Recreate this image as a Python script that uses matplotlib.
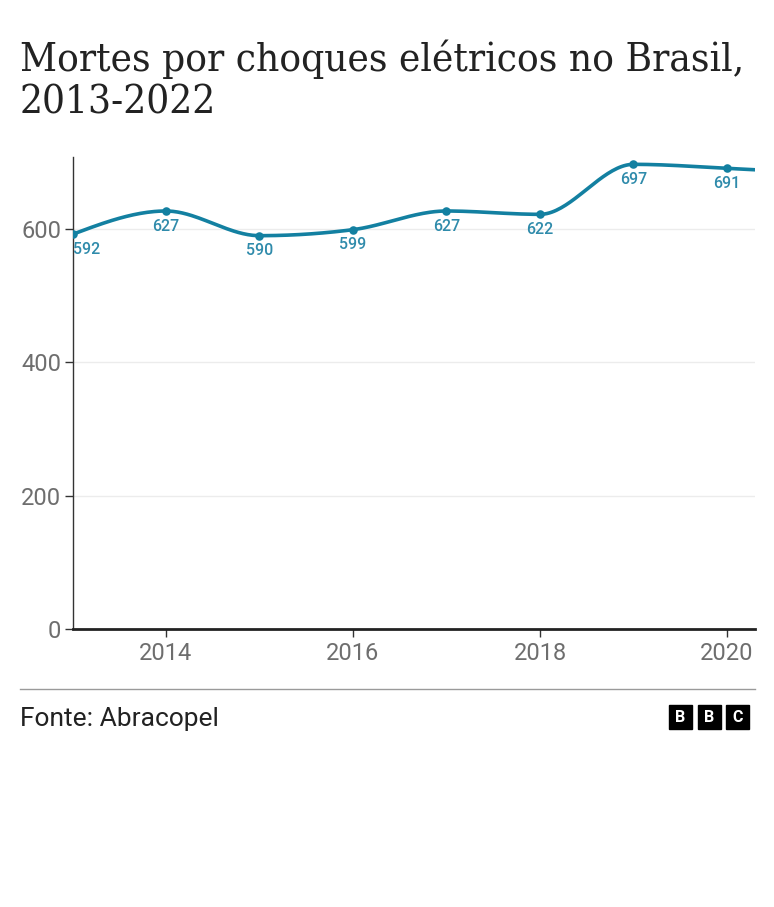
import numpy as np
import matplotlib
matplotlib.use("Agg")
import matplotlib.pyplot as plt
from matplotlib.patches import Rectangle

years = [2013, 2014, 2015, 2016, 2017, 2018, 2019, 2020, 2021, 2022]
deaths = [592, 627, 590, 599, 627, 622, 697, 691, 682, 661]
labelled_years = [2013, 2014, 2015, 2016, 2017, 2018, 2019, 2020]
y_ticks = [0, 200, 400, 600]
x_ticks = [2014, 2016, 2018, 2020]

title_lines = ["Mortes por choques elétricos no Brasil,", "2013-2022"]
source = "Fonte: Abracopel"

LINE = "#1380A1"
LABEL = "#2f8bab"
SANS = ["Roboto", "DejaVu Sans"]


def monotone_curve(x, y, n=40):
    x = np.asarray(x, float)
    y = np.asarray(y, float)
    h = np.diff(x)
    s = np.diff(y) / h
    m = np.zeros_like(y)
    for i in range(1, len(y) - 1):
        if s[i - 1] * s[i] <= 0:
            m[i] = 0
        else:
            p = (s[i - 1] * h[i] + s[i] * h[i - 1]) / (h[i - 1] + h[i])
            m[i] = (np.sign(s[i - 1]) + np.sign(s[i])) * min(abs(s[i - 1]), abs(s[i]), 0.5 * abs(p))
    m[0] = (3 * s[0] - m[1]) / 2
    m[-1] = (3 * s[-1] - m[-2]) / 2
    xs, ys = [], []
    for i in range(len(h)):
        t = np.linspace(0, 1, n, endpoint=(i == len(h) - 1))
        h00 = 2 * t**3 - 3 * t**2 + 1
        h10 = t**3 - 2 * t**2 + t
        h01 = -2 * t**3 + 3 * t**2
        h11 = t**3 - t**2
        xs.append(x[i] + t * h[i])
        ys.append(h00 * y[i] + h10 * h[i] * m[i] + h01 * y[i + 1] + h11 * h[i] * m[i + 1])
    return np.concatenate(xs), np.concatenate(ys)


fig = plt.figure(figsize=(7.74, 9.07), dpi=100)
fig.patch.set_facecolor("white")
ax = fig.add_axes([72.5 / 774, 1 - 629 / 907, (755 - 72.5) / 774, (629 - 157) / 907])

ax.set_xlim(2013, 2020.30)
ax.set_ylim(0, 708)

for yt in y_ticks[1:]:
    ax.axhline(yt, color="#ececec", lw=1, zorder=0)

cx, cy = monotone_curve(years, deaths)
ax.plot(cx, cy, color=LINE, lw=2.6, solid_capstyle="round", zorder=3, clip_on=True)
ax.scatter(years, deaths, s=38, color=LINE, zorder=4, clip_on=True, linewidths=0)

for yr, v in zip(years, deaths):
    if yr not in labelled_years:
        continue
    ha = "left" if yr == years[0] else "center"
    ax.annotate(str(v), (yr, v), xytext=(0, -5.5), textcoords="offset points",
                ha=ha, va="top", fontsize=11.5, color=LABEL, family=SANS,
                fontweight="medium", zorder=5)

ax.set_yticks(y_ticks)
ax.set_xticks(x_ticks)
ax.tick_params(axis="y", length=6, width=1, color="#333333", labelsize=17,
               labelcolor="#6e6e6e", pad=2)
ax.tick_params(axis="x", length=6, width=1, color="#333333", labelsize=17,
               labelcolor="#6e6e6e", pad=3)
for lab in ax.get_xticklabels() + ax.get_yticklabels():
    lab.set_family(SANS)

for sp in ["top", "right"]:
    ax.spines[sp].set_visible(False)
ax.spines["left"].set_color("#333333")
ax.spines["left"].set_linewidth(1)
ax.spines["bottom"].set_color("#222222")
ax.spines["bottom"].set_linewidth(2)

for line, base in zip(title_lines, [71, 114]):
    fig.text(20 / 774, 1 - base / 907, line, fontsize=29,
             family=["DejaVu Serif", "Liberation Serif"], fontstretch="condensed",
             color="#222222", ha="left", va="baseline")

fig.add_artist(plt.Line2D([20 / 774, 755 / 774], [1 - 689 / 907] * 2, color="#9a9a9a", lw=1))
fig.text(20 / 774, 1 - 719 / 907, source, fontsize=19, family=SANS, color="#222222",
         ha="left", va="center")

for i, letter in enumerate("BBC"):
    x0 = 669 + i * 28.5
    fig.add_artist(Rectangle((x0 / 774, 1 - 729 / 907), 23 / 774, 24 / 907,
                             transform=fig.transFigure, color="black"))
    fig.text((x0 + 11.5) / 774, 1 - 717.5 / 907, letter, color="white", fontsize=11.5,
             fontweight="bold", family=SANS, ha="center", va="center")

fig.savefig("out.png", dpi=100, facecolor="white")
